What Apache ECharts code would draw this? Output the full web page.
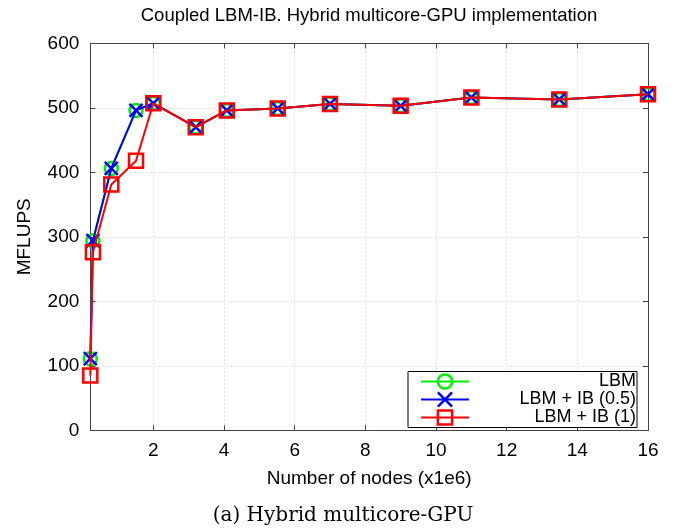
<!DOCTYPE html>
<html><head><meta charset="utf-8">
<script src="https://cdn.jsdelivr.net/npm/echarts@6/dist/echarts.min.js"></script>
<style>html,body{margin:0;padding:0;background:#fff}#c{width:675px;height:528px}</style>
</head><body><div id="c"></div>
<script>
const nodes = [0.216, 0.29, 0.81, 1.51, 2.0, 3.2, 4.08, 5.52, 7.0, 9.0, 11.0, 13.49, 16];
const lbm = [111, 294, 406, 496, 507, 470, 496, 499, 506, 503, 516, 513, 521];
const lbmIb05 = [111, 294, 406, 496, 507, 470, 496, 499, 506, 503, 516, 513, 521];
const lbmIb1 = [85, 276, 381, 418, 507, 470, 496, 499, 506, 503, 516, 513, 521];
const seriesNames = ['LBM', 'LBM + IB (0.5)', 'LBM + IB (1)'];
const seriesColors = ['#00ee00', '#0000ff', '#ff0000'];
const xTicks = [2, 4, 6, 8, 10, 12, 14, 16];
const titleText = 'Coupled LBM-IB. Hybrid multicore-GPU implementation';
const captionText = '(a) Hybrid multicore-GPU';
const xName = 'Number of nodes (x1e6)';
const yName = 'MFLUPS';

const FONT = 'Liberation Sans, Arial, Helvetica, sans-serif';
const FS = 19;
const LFS = 18;
const axisColor = '#444';
const gridColor = '#dddddd';

function pairs(ys) { return nodes.map((x, i) => [x, ys[i]]); }

const symbols = ['circle', 'path://M0,0L10,10M10,0L0,10', 'rect'];
const symbolSizes = [13, 13, 14];
const values = [lbm, lbmIb05, lbmIb1];

const chart = echarts.init(document.getElementById('c'), null, {renderer: 'canvas'});
const xCommon = {
  type: 'value', min: nodes[0], max: 16, splitNumber: 8,
  axisLine: {show: true, onZero: false, lineStyle: {color: axisColor, width: 1}},
  axisTick: {show: true, inside: true, length: 5, lineStyle: {color: axisColor}},
};
const yCommon = {
  type: 'value', min: 0, max: 600, interval: 100,
  axisLine: {show: true, onZero: false, lineStyle: {color: axisColor, width: 1}},
  axisTick: {show: true, inside: true, length: 5, lineStyle: {color: axisColor}},
};
const option = {
  animation: false,
  backgroundColor: '#fff',
  textStyle: {fontFamily: FONT},
  title: [
    {text: titleText, left: 369, top: 6.5, padding: 0, textAlign: 'center',
     textStyle: {fontFamily: FONT, fontSize: 18.5, fontWeight: 'normal', color: '#000'}},
    {text: captionText, left: 343, top: 506, padding: 0, textAlign: 'center',
     textStyle: {fontFamily: 'DejaVu Serif, serif', fontSize: 20, fontWeight: 'normal', color: '#000'}}
  ],
  grid: {left: 90.3, right: 27, top: 43.3, bottom: 97.7, containLabel: false},
  xAxis: [
    Object.assign({}, xCommon, {
      position: 'bottom',
      name: xName, nameLocation: 'middle', nameGap: 39,
      nameTextStyle: {fontFamily: FONT, fontSize: FS, color: '#000'},
      axisLabel: {show: true, margin: 11, fontFamily: FONT, fontSize: FS, color: '#000',
        showMinLabel: false,
        formatter: v => (xTicks.indexOf(v) >= 0 ? String(v) : '')},
      splitLine: {show: true, lineStyle: {color: gridColor, type: [2, 2], width: 1}}
    }),
    Object.assign({}, xCommon, {
      position: 'top', axisLabel: {show: false}, splitLine: {show: false}
    })
  ],
  yAxis: [
    Object.assign({}, yCommon, {
      position: 'left',
      name: yName, nameLocation: 'middle', nameGap: 56,
      nameTextStyle: {fontFamily: FONT, fontSize: FS, color: '#000'},
      axisLabel: {show: true, margin: 11, fontFamily: FONT, fontSize: FS, color: '#000'},
      splitLine: {show: true, lineStyle: {color: gridColor, type: [2, 2], width: 1}}
    }),
    Object.assign({}, yCommon, {
      position: 'right', axisLabel: {show: false}, splitLine: {show: false}
    })
  ],
  legend: {
    orient: 'vertical', left: 408, top: 371.5,
    padding: [1, 1, 1, 12],
    borderColor: '#000', borderWidth: 1, backgroundColor: '#fff',
    itemWidth: 48, itemHeight: 17.8, itemGap: 0, itemTextGap: 5,
    itemStyle: {borderWidth: 2.5},
    formatter: name => '{t|' + name + '}',
    textStyle: {
      fontFamily: FONT, fontSize: LFS, color: '#000', lineHeight: 17.8,
      rich: {t: {width: 162, align: 'right', fontFamily: FONT, fontSize: LFS, lineHeight: 17.8, color: '#000'}}
    },
    data: seriesNames
  },
  series: seriesNames.map((name, i) => ({
    name: name, type: 'line', xAxisIndex: 0, yAxisIndex: 0,
    data: pairs(values[i]),
    symbol: symbols[i], symbolSize: symbolSizes[i],
    showAllSymbol: true,
    lineStyle: {color: seriesColors[i], width: 2},
    itemStyle: {color: 'rgba(0,0,0,0)', borderColor: seriesColors[i], borderWidth: 2.5},
    emphasis: {disabled: true},
    z: 2 + i
  }))
};
chart.setOption(option);
</script></body></html>
